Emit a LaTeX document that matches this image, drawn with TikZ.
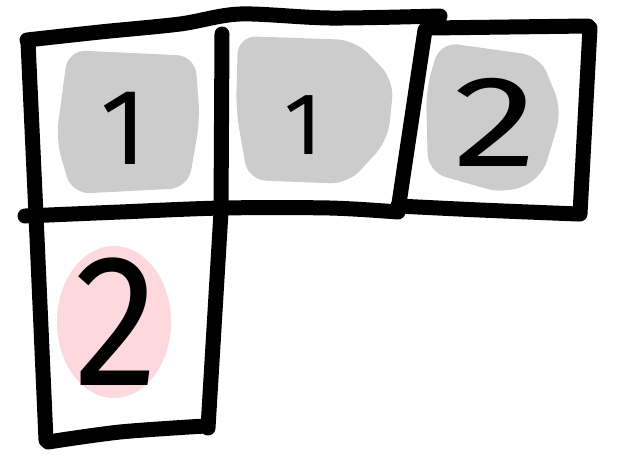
\documentclass[tikz,border=0pt]{standalone}
\usepackage{fontspec}
\setsansfont{Fira Sans}
\definecolor{blobgray}{HTML}{CCCCCC}
\definecolor{blobpink}{HTML}{FDD8DC}
\tikzset{
  pen/.style={line width=15pt, draw=black, line cap=round, line join=round},
  blob/.style={fill=blobgray, rounded corners=18pt},
  digit/.style={inner sep=0pt, text=black},
}

\begin{document}
\begin{tikzpicture}[x=1pt, y=-1pt]  % pixel grid, origin top left
  \useasboundingbox (0,0) rectangle (640,467);
  % shaded cells
  \fill[blob] (68,50) -- (195,56) -- (200,120) -- (188,188) -- (72,194) -- (56,140) -- cycle;
  \fill[blob] (238,36) -- (355,40) -- (394,80) -- (388,140) -- (348,184) -- (248,180) -- (236,110) -- cycle;
  \fill[blob] (440,42) -- (540,56) -- (562,110) -- (542,178) -- (505,194) -- (428,172) -- (426,90) -- cycle;
  \fill[blobpink] (114,322) ellipse[x radius=57, y radius=76];
  % grid strokes
  \draw[pen] plot[smooth] coordinates {(27,40) (100,32) (180,24) (240,14) (330,18) (440,16)};
  \draw[pen] (430,28) -- (588,26);
  \draw[pen] (28,42) -- (36,215) -- (46,440);
  \draw[pen] (222,34) -- (221,212) -- (208,428);
  \draw[pen] (425,30) -- (398,210);
  \draw[pen] (590,28) -- (580,214);
  \draw[pen] plot[smooth] coordinates {(25,216) (120,212) (222,208) (330,208) (398,212)};
  \draw[pen] plot[smooth] coordinates {(398,206) (480,210) (578,214)};
  \draw[pen] plot[smooth] coordinates {(48,442) (120,432) (205,426)};
  % digits
  \node[digit, font=\sffamily\fontsize{108}{108}\selectfont] (one a) at (124,128) {1};
  \node[digit, font=\sffamily\fontsize{88}{88}\selectfont] (one b) at (304,125) {1};
  \node[digit, font=\sffamily\fontsize{130}{130}\selectfont, xscale=1.3] (two a) at (495,122) {2};
  \node[digit, font=\sffamily\fontsize{188}{188}\selectfont, xscale=0.9] (two b) at (116,322) {2};
\end{tikzpicture}
\end{document}
